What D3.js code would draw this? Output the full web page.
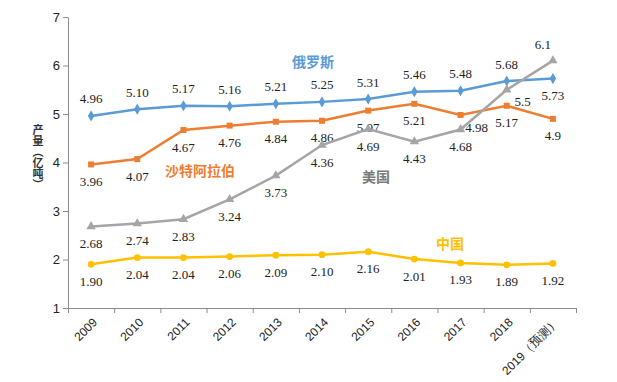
<!DOCTYPE html>
<html>
<head>
<meta charset="utf-8">
<script src="https://cdn.jsdelivr.net/npm/d3@7"></script>
<style>
  body { margin: 0; background: #fff; }
  .os text { font-family: "Liberation Sans", Arial, sans-serif; fill: #222; }
  .os path, .os line { stroke: #8c8c8c; }
  .oznaka { font-family: "Liberation Serif", "Times New Roman", serif; font-size: 13px; fill: #222; }
  .ime { font-family: "Noto Sans CJK SC", sans-serif; font-size: 14px; font-weight: bold; }
</style>
</head>
<body>
<div id="okvir"></div>
<script>
// podaci
const godine = ["2009", "2010", "2011", "2012", "2013", "2014", "2015", "2016", "2017", "2018", "2019（预测）"]
const rusija = [4.96, 5.10, 5.17, 5.16, 5.21, 5.25, 5.31, 5.46, 5.48, 5.68, 5.73]
const saudijska = [3.96, 4.07, 4.67, 4.76, 4.84, 4.86, 5.07, 5.21, 4.98, 5.17, 4.9]
const sad = [2.68, 2.74, 2.83, 3.24, 3.73, 4.36, 4.69, 4.43, 4.68, 5.5, 6.1]
const kina = [1.90, 2.04, 2.04, 2.06, 2.09, 2.10, 2.16, 2.01, 1.93, 1.89, 1.92]
const yOznake = [1, 2, 3, 4, 5, 6, 7]
const yNaslov = "产量（亿吨）"

// gdje stoji oznaka vrijednosti: g = gore, d = dolje, r = desno, l = gore lijevo
const polozajRusija = ["g", "g", "g", "g", "g", "g", "g", "g", "g", "g", "d"]
const polozajSaudijska = ["d", "d", "d", "d", "d", "d", "d", "d", "r", "d", "d"]
const polozajSad = ["d", "d", "d", "d", "d", "d", "d", "d", "d", "r", "l"]
const polozajKina = ["d", "d", "d", "d", "d", "d", "d", "d", "d", "d", "d"]

const serije = [
  { ime: "俄罗斯", vrijednosti: rusija, polozaj: polozajRusija, boja: "#5b9bd5", oblik: d3.symbolDiamond, dec: 2, imeX: 313, imeY: 62, imeBoja: "#5b9bd5" },
  { ime: "沙特阿拉伯", vrijednosti: saudijska, polozaj: polozajSaudijska, boja: "#ed7d31", oblik: d3.symbolSquare, dec: -1, imeX: 200, imeY: 171, imeBoja: "#ed7d31" },
  { ime: "美国", vrijednosti: sad, polozaj: polozajSad, boja: "#a5a5a5", oblik: d3.symbolTriangle, dec: -1, imeX: 376, imeY: 177, imeBoja: "#7a7a7a" },
  { ime: "中国", vrijednosti: kina, polozaj: polozajKina, boja: "#ffc000", oblik: d3.symbolCircle, dec: 2, imeX: 450, imeY: 244, imeBoja: "#ffc000" },
]

function crtaj() {
  const dimenzije = {
    sirina: 617,
    visina: 382,
    margine: { top: 17, right: 41, bottom: 74, left: 68 },
  }

  const okvir = d3.select("#okvir")
    .append("svg")
      .attr("width", dimenzije.sirina)
      .attr("height", dimenzije.visina)

  const xSkala = d3.scaleBand()
    .domain(godine)
    .range([dimenzije.margine.left, dimenzije.sirina - dimenzije.margine.right])
    .padding(0)

  const xRubovi = d3.scaleLinear()
    .domain([0, godine.length])
    .range(xSkala.range())

  const ySkala = d3.scaleLinear()
    .domain([1, 7])
    .range([dimenzije.visina - dimenzije.margine.bottom, dimenzije.margine.top])

  const dnoY = ySkala(1)

  // osi
  okvir.append("g")
      .attr("class", "os")
      .attr("transform", `translate(0,${dnoY})`)
    .call(d3.axisBottom(xRubovi).tickValues(d3.range(godine.length + 1)).tickFormat("").tickSize(5).tickSizeOuter(5))

  okvir.append("g")
      .attr("class", "os")
    .selectAll("text")
    .data(godine)
    .join("text")
      .attr("transform", d => `translate(${xSkala(d) + xSkala.bandwidth() / 2 + 4},${dnoY + 12}) rotate(-45)`)
      .attr("text-anchor", "end")
      .attr("dy", "0.35em")
      .style("font-size", "12px")
      .text(d => d)

  okvir.append("g")
      .attr("class", "os")
      .attr("transform", `translate(${dimenzije.margine.left},0)`)
    .call(d3.axisLeft(ySkala).tickValues(yOznake).tickFormat(d3.format("d")).tickSize(5).tickSizeOuter(0))
    .call(g => g.selectAll("text").style("font-size", "13px").attr("x", -8))

  // naslov osi y, okomito pismo
  okvir.append("text")
      .attr("x", 38)
      .attr("y", 157)
      .attr("text-anchor", "middle")
      .style("writing-mode", "vertical-rl")
      .style("font-family", "'Noto Sans CJK SC', sans-serif")
      .style("font-size", "11px")
      .style("font-weight", "bold")
      .style("fill", "#333")
      .text(yNaslov)

  // linije i tocke
  const linija = d3.line()
    .x((d, i) => xSkala(godine[i]) + xSkala.bandwidth() / 2)
    .y(d => ySkala(d))

  const pomak = { g: [0, -17], d: [0, 17], r: [16, 12], l: [-10, -16] }

  serije.forEach(s => {
    const g = okvir.append("g")

    g.append("path")
        .datum(s.vrijednosti)
        .attr("fill", "none")
        .attr("stroke", s.boja)
        .attr("stroke-width", 2.5)
        .attr("d", linija)

    g.selectAll("path.tocka")
      .data(s.vrijednosti)
      .join("path")
        .attr("class", "tocka")
        .attr("transform", (d, i) => `translate(${xSkala(godine[i]) + xSkala.bandwidth() / 2},${ySkala(d)})`)
        .attr("d", d3.symbol().type(s.oblik).size(s.oblik === d3.symbolTriangle ? 38 : 36))
        .attr("fill", s.boja)

    g.selectAll("text.oznaka")
      .data(s.vrijednosti)
      .join("text")
        .attr("class", "oznaka")
        .attr("x", (d, i) => xSkala(godine[i]) + xSkala.bandwidth() / 2 + pomak[s.polozaj[i]][0])
        .attr("y", (d, i) => ySkala(d) + pomak[s.polozaj[i]][1])
        .attr("dy", "0.35em")
        .attr("text-anchor", "middle")
        .text(d => s.dec > 0 ? d.toFixed(s.dec) : String(d))

    okvir.append("text")
        .attr("class", "ime")
        .attr("x", s.imeX)
        .attr("y", s.imeY)
        .attr("dy", "0.35em")
        .attr("text-anchor", "middle")
        .style("fill", s.imeBoja)
        .text(s.ime)
  })
}
crtaj()
</script>
</body>
</html>
